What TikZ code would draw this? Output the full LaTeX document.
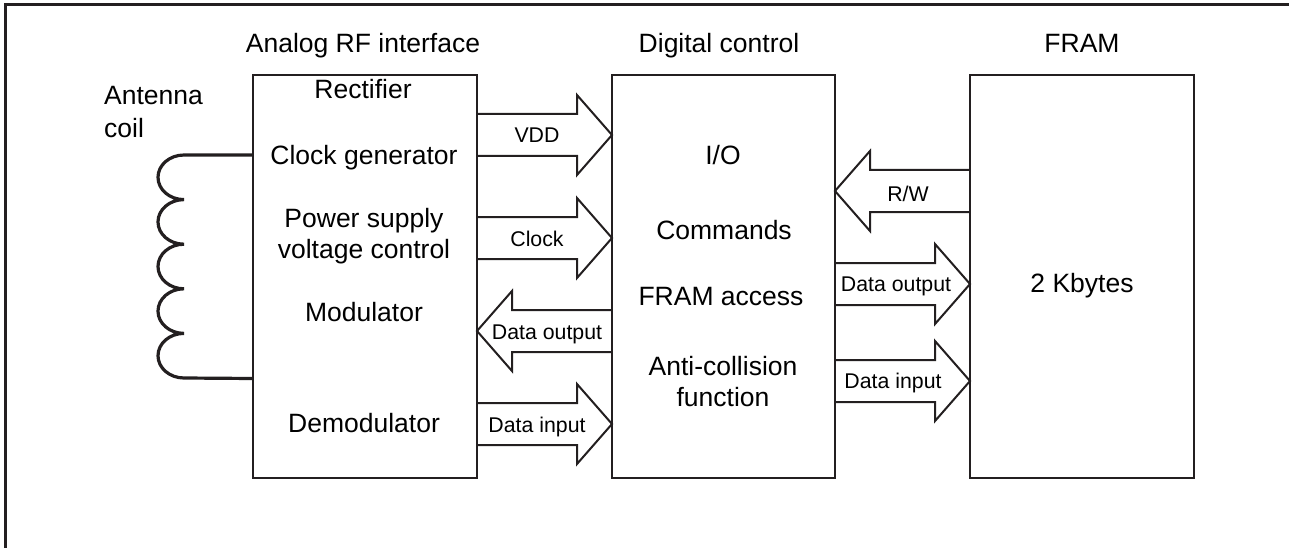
\documentclass[tikz,border=0pt]{standalone}
\usepackage{fontspec}
\setmainfont{Liberation Sans}
\usetikzlibrary{calc}
\definecolor{ink}{HTML}{231F20}
\newcommand{\rblk}[3]{%
\draw[blk] (#1.east|-0,#3-21) -- ($(#2.west|-0,#3-21)+(-35,0)$) -- ($(#2.west|-0,#3-40)+(-35,0)$) -- (#2.west|-0,#3) -- ($(#2.west|-0,#3+40)+(-35,0)$) -- ($(#2.west|-0,#3+21)+(-35,0)$) -- (#1.east|-0,#3+21);}
\newcommand{\lblk}[3]{%
\draw[blk] (#2.west|-0,#3-21) -- ($(#1.east|-0,#3-21)+(35,0)$) -- ($(#1.east|-0,#3-40)+(35,0)$) -- (#1.east|-0,#3) -- ($(#1.east|-0,#3+40)+(35,0)$) -- ($(#1.east|-0,#3+21)+(35,0)$) -- (#2.west|-0,#3+21);}
\begin{document}
\begin{tikzpicture}[x=1pt,y=-1pt,
  box/.style={draw=ink, line width=2pt, outer sep=0pt, inner sep=0pt, minimum width=224pt, minimum height=403pt},
  blk/.style={draw=ink, line width=2pt},
  big/.style={inner sep=0pt, anchor=base, font=\fontsize{26.5pt}{31pt}\selectfont, text=black},
  small/.style={inner sep=0pt, anchor=base, font=\fontsize{21.3pt}{25pt}\selectfont, text=black},
  coilline/.style={draw=ink, line width=3.2pt},
  framel/.style={draw=ink, line width=3pt}]
\useasboundingbox (0,0) rectangle (1289,548);
\draw[framel] (1289,5) -- (5,5) -- (5,548);
% boxes
\node[box] (ana) at (365,276.5) {};
\node[box, minimum width=223pt] (dig) at (723.5,276.5) {};
\node[box] (fram) at (1082,276.5) {};
% titles
\node[big] (t1) at (363,53) {Analog RF interface};
\node[big] (t2) at (719,53) {Digital control};
\node[big] (t3) at (1082,53) {FRAM};
\node[big, anchor=base west, align=left] (ant1) at (104,105) {Antenna};
\node[big, anchor=base west] (ant2) at (104,138) {coil};
% analog texts
\node[big] (a1) at (363,99) {Rectifier};
\node[big] (a2) at (364,165) {Clock generator};
\node[big] (a3) at (364,227) {Power supply};
\node[big] (a4) at (364,258) {voltage control};
\node[big] (a5) at (364,321) {Modulator};
\node[big] (a6) at (364,432) {Demodulator};
% digital texts
\node[big] (d1) at (723,165) {I/O};
\node[big] (d2) at (724,239) {Commands};
\node[big] (d3) at (721,305) {FRAM access};
\node[big] (d4) at (723,375) {Anti-collision};
\node[big] (d5) at (723,406) {function};
% fram text
\node[big] (f1) at (1082,292) {2 Kbytes};
% coil
\draw[coilline] (ana.west|-0,155) -- (184,155)
  arc[start angle=90,end angle=270,x radius=26pt,y radius=22.3pt]
  arc[start angle=90,end angle=270,x radius=26pt,y radius=22.3pt]
  arc[start angle=90,end angle=270,x radius=26pt,y radius=22.3pt]
  arc[start angle=90,end angle=270,x radius=26pt,y radius=22.3pt]
  arc[start angle=90,end angle=270,x radius=26pt,y radius=22.3pt]
  -- (ana.west|-0,378.5);
% block arrows
\rblk{ana}{dig}{135}
\rblk{ana}{dig}{238}
\lblk{ana}{dig}{331}
\rblk{ana}{dig}{424}
\lblk{dig}{fram}{191}
\rblk{dig}{fram}{284}
\rblk{dig}{fram}{381}
% arrow labels
\node[small] (l1) at (537,143) {VDD};
\node[small] (l2) at (537,246) {Clock};
\node[small] (l3) at (547,339) {Data output};
\node[small] (l4) at (537,432) {Data input};
\node[small] (l5) at (908,201) {R/W};
\node[small] (l6) at (896,291) {Data output};
\node[small] (l7) at (893,388) {Data input};
\end{tikzpicture}
\end{document}
